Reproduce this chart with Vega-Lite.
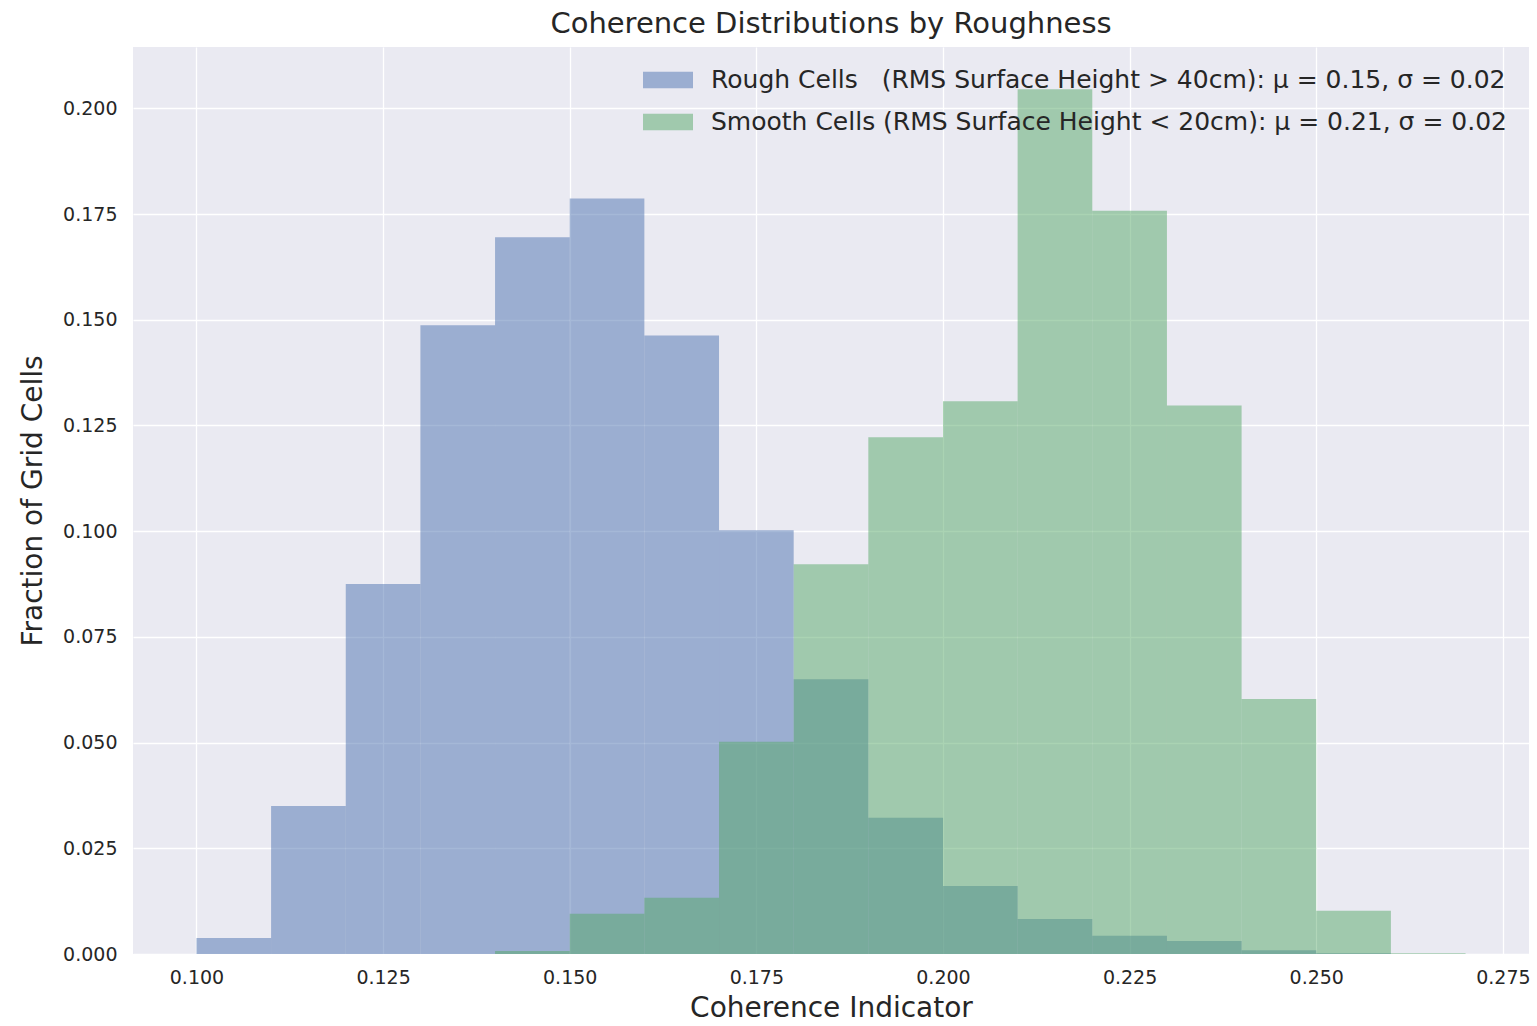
{
  "$schema": "https://vega.github.io/schema/vega-lite/v6.json",
  "width": 1396,
  "height": 907,
  "autosize": "none",
  "padding": {"left": 133, "top": 47, "right": 8, "bottom": 72},
  "background": "white",
  "title": {"text": "Coherence Distributions by Roughness", "fontSize": 29, "font": "DejaVu Sans", "fontWeight": "normal", "color": "#262626", "offset": 8},
  "data": {"values": [
    {"group": "Rough Cells\u00a0\u00a0\u00a0(RMS Surface Height > 40cm): μ = 0.15, σ = 0.02", "lo": 0.10, "hi": 0.11, "frac": 0.0038},
    {"group": "Rough Cells\u00a0\u00a0\u00a0(RMS Surface Height > 40cm): μ = 0.15, σ = 0.02", "lo": 0.11, "hi": 0.12, "frac": 0.035},
    {"group": "Rough Cells\u00a0\u00a0\u00a0(RMS Surface Height > 40cm): μ = 0.15, σ = 0.02", "lo": 0.12, "hi": 0.13, "frac": 0.0875},
    {"group": "Rough Cells\u00a0\u00a0\u00a0(RMS Surface Height > 40cm): μ = 0.15, σ = 0.02", "lo": 0.13, "hi": 0.14, "frac": 0.1487},
    {"group": "Rough Cells\u00a0\u00a0\u00a0(RMS Surface Height > 40cm): μ = 0.15, σ = 0.02", "lo": 0.14, "hi": 0.15, "frac": 0.1695},
    {"group": "Rough Cells\u00a0\u00a0\u00a0(RMS Surface Height > 40cm): μ = 0.15, σ = 0.02", "lo": 0.15, "hi": 0.16, "frac": 0.1787},
    {"group": "Rough Cells\u00a0\u00a0\u00a0(RMS Surface Height > 40cm): μ = 0.15, σ = 0.02", "lo": 0.16, "hi": 0.17, "frac": 0.1463},
    {"group": "Rough Cells\u00a0\u00a0\u00a0(RMS Surface Height > 40cm): μ = 0.15, σ = 0.02", "lo": 0.17, "hi": 0.18, "frac": 0.1002},
    {"group": "Rough Cells\u00a0\u00a0\u00a0(RMS Surface Height > 40cm): μ = 0.15, σ = 0.02", "lo": 0.18, "hi": 0.19, "frac": 0.065},
    {"group": "Rough Cells\u00a0\u00a0\u00a0(RMS Surface Height > 40cm): μ = 0.15, σ = 0.02", "lo": 0.19, "hi": 0.20, "frac": 0.0322},
    {"group": "Rough Cells\u00a0\u00a0\u00a0(RMS Surface Height > 40cm): μ = 0.15, σ = 0.02", "lo": 0.20, "hi": 0.21, "frac": 0.0161},
    {"group": "Rough Cells\u00a0\u00a0\u00a0(RMS Surface Height > 40cm): μ = 0.15, σ = 0.02", "lo": 0.21, "hi": 0.22, "frac": 0.0083},
    {"group": "Rough Cells\u00a0\u00a0\u00a0(RMS Surface Height > 40cm): μ = 0.15, σ = 0.02", "lo": 0.22, "hi": 0.23, "frac": 0.0043},
    {"group": "Rough Cells\u00a0\u00a0\u00a0(RMS Surface Height > 40cm): μ = 0.15, σ = 0.02", "lo": 0.23, "hi": 0.24, "frac": 0.0031},
    {"group": "Rough Cells\u00a0\u00a0\u00a0(RMS Surface Height > 40cm): μ = 0.15, σ = 0.02", "lo": 0.24, "hi": 0.25, "frac": 0.0009},
    {"group": "Rough Cells\u00a0\u00a0\u00a0(RMS Surface Height > 40cm): μ = 0.15, σ = 0.02", "lo": 0.25, "hi": 0.26, "frac": 0.0002},
    {"group": "Smooth Cells (RMS Surface Height < 20cm): μ = 0.21, σ = 0.02", "lo": 0.14, "hi": 0.15, "frac": 0.0007},
    {"group": "Smooth Cells (RMS Surface Height < 20cm): μ = 0.21, σ = 0.02", "lo": 0.15, "hi": 0.16, "frac": 0.0095},
    {"group": "Smooth Cells (RMS Surface Height < 20cm): μ = 0.21, σ = 0.02", "lo": 0.16, "hi": 0.17, "frac": 0.0133},
    {"group": "Smooth Cells (RMS Surface Height < 20cm): μ = 0.21, σ = 0.02", "lo": 0.17, "hi": 0.18, "frac": 0.0502},
    {"group": "Smooth Cells (RMS Surface Height < 20cm): μ = 0.21, σ = 0.02", "lo": 0.18, "hi": 0.19, "frac": 0.0922},
    {"group": "Smooth Cells (RMS Surface Height < 20cm): μ = 0.21, σ = 0.02", "lo": 0.19, "hi": 0.20, "frac": 0.1222},
    {"group": "Smooth Cells (RMS Surface Height < 20cm): μ = 0.21, σ = 0.02", "lo": 0.20, "hi": 0.21, "frac": 0.1307},
    {"group": "Smooth Cells (RMS Surface Height < 20cm): μ = 0.21, σ = 0.02", "lo": 0.21, "hi": 0.22, "frac": 0.2045},
    {"group": "Smooth Cells (RMS Surface Height < 20cm): μ = 0.21, σ = 0.02", "lo": 0.22, "hi": 0.23, "frac": 0.1758},
    {"group": "Smooth Cells (RMS Surface Height < 20cm): μ = 0.21, σ = 0.02", "lo": 0.23, "hi": 0.24, "frac": 0.1297},
    {"group": "Smooth Cells (RMS Surface Height < 20cm): μ = 0.21, σ = 0.02", "lo": 0.24, "hi": 0.25, "frac": 0.0603},
    {"group": "Smooth Cells (RMS Surface Height < 20cm): μ = 0.21, σ = 0.02", "lo": 0.25, "hi": 0.26, "frac": 0.0102},
    {"group": "Smooth Cells (RMS Surface Height < 20cm): μ = 0.21, σ = 0.02", "lo": 0.26, "hi": 0.27, "frac": 0.0002}
  ]},
  "mark": {"type": "bar", "opacity": 0.5, "stroke": null},
  "encoding": {
    "x": {"field": "lo", "type": "quantitative",
      "scale": {"domain": [0.0915, 0.2785], "nice": false, "zero": false},
      "axis": {"title": "Coherence Indicator", "values": [0.1, 0.125, 0.15, 0.175, 0.2, 0.225, 0.25, 0.275], "format": ".3f"}},
    "x2": {"field": "hi"},
    "y": {"field": "frac", "type": "quantitative", "stack": null,
      "scale": {"domain": [0, 0.2145], "nice": false},
      "axis": {"title": "Fraction of Grid Cells", "values": [0, 0.025, 0.05, 0.075, 0.1, 0.125, 0.15, 0.175, 0.2], "format": ".3f"}},
    "y2": {"datum": 0},
    "color": {"field": "group", "type": "nominal",
      "scale": {"domain": ["Rough Cells\u00a0\u00a0\u00a0(RMS Surface Height > 40cm): μ = 0.15, σ = 0.02", "Smooth Cells (RMS Surface Height < 20cm): μ = 0.21, σ = 0.02"], "range": ["#4C72B0", "#55A868"]},
      "legend": {"title": null, "orient": "none", "legendX": 518, "legendY": 16, "padding": 0,
        "symbolType": "M-1.5,-0.5L1.5,-0.5L1.5,0.5L-1.5,0.5Z", "symbolSize": 1111, "symbolOpacity": 0.5, "symbolStrokeWidth": 0,
        "labelFontSize": 25, "labelFont": "DejaVu Sans", "labelColor": "#262626", "labelLimit": 1200, "labelOffset": 26, "rowPadding": 12}}
  },
  "config": {
    "font": "DejaVu Sans",
    "view": {"fill": "#EAEAF2", "stroke": null},
    "axis": {"grid": true, "gridColor": "white", "gridWidth": 1.3, "domain": false, "ticks": false,
      "labelFontSize": 19, "labelColor": "#262626", "labelFont": "DejaVu Sans",
      "titleFontSize": 28, "titleFontWeight": "normal", "titleColor": "#262626", "titleFont": "DejaVu Sans"},
    "axisX": {"labelPadding": 14, "titlePadding": 7},
    "axisY": {"labelPadding": 16, "titlePadding": 15}
  }
}
